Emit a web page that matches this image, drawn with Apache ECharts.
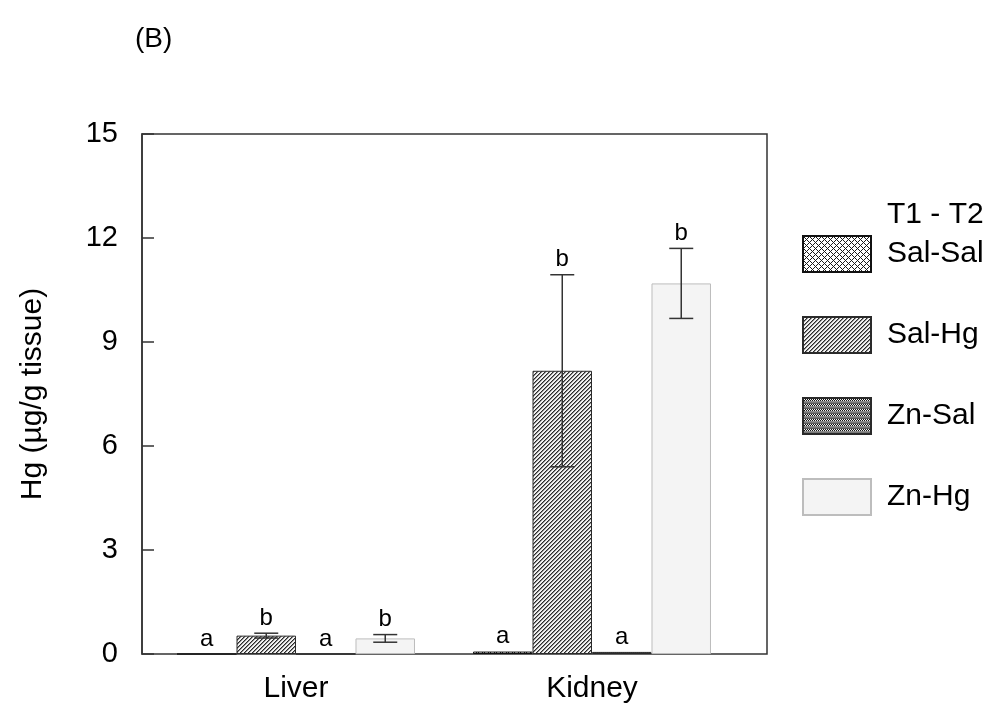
<!DOCTYPE html>
<html>
<head>
<meta charset="utf-8">
<script src="https://cdn.jsdelivr.net/npm/echarts@6/dist/echarts.min.js"></script>
<style>
  html, body { margin: 0; padding: 0; background: #fff; }
  #chart { width: 995px; height: 710px; }
</style>
</head>
<body>
<div id="chart"></div>
<script>
// Hg content (µg/g tissue) by tissue and treatment group (T1 - T2)
const tissues = ['Liver', 'Kidney'];
const groups = ['Sal-Sal', 'Sal-Hg', 'Zn-Sal', 'Zn-Hg'];

const salSal = [0, 0.07];
const salHg  = [0.53, 8.17];
const znSal  = [0, 0.06];
const znHg   = [0.45, 10.69];

const salSalErr = [0, 0];
const salHgErr  = [0.07, 2.77];
const znSalErr  = [0, 0];
const znHgErr   = [0.11, 1.01];

const salSalSig = ['a', 'a'];
const salHgSig  = ['b', 'b'];
const znSalSig  = ['a', 'a'];
const znHgSig   = ['b', 'b'];

const yTicks = [0, 3, 6, 9, 12, 15];

const FONT = '"Liberation Sans", Arial, sans-serif';
const BAR_CAT_GAP = 0.196;

// ---- fill patterns -------------------------------------------------------
function makePattern(w, h, painter) {
  const c = document.createElement('canvas');
  c.width = w; c.height = h;
  const ctx = c.getContext('2d');
  for (let y = 0; y < h; y++) {
    for (let x = 0; x < w; x++) {
      ctx.fillStyle = painter(x, y);
      ctx.fillRect(x, y, 1, 1);
    }
  }
  return { image: c, repeat: 'repeat' };
}
// cross hatch
const crossHatch = makePattern(6, 6, (x, y) =>
  ((x + y) % 6 === 0 || (x - y + 6) % 6 === 0) ? '#1a1a1a' : '#ffffff');
// forward diagonal lines
const diagLines = makePattern(4, 4, (x, y) => {
  const k = (x + y) % 4;
  return k === 0 ? '#2a2a2a' : (k === 1 ? '#8a8a8a' : '#f2f2f2');
});
// dense horizontal bands
const bandRows = [
  () => '#5a5a5a',
  (x) => (x % 2 === 0 ? '#111111' : '#f0f0f0'),
  (x) => (x % 2 === 0 ? '#f0f0f0' : '#111111'),
  () => '#8c8c8c',
  () => '#777777'
];
const hBands = makePattern(4, 5, (x, y) => bandRows[y](x));

const fills = [crossHatch, diagLines, hBands, '#f4f4f4'];
const borders = ['#111111', '#2a2a2a', '#2a2a2a', '#bdbdbd'];

const values = [salSal, salHg, znSal, znHg];
const errors = [salSalErr, salHgErr, znSalErr, znHgErr];
const letters = [salSalSig, salHgSig, znSalSig, znHgSig];

const barSeries = groups.map((g, i) => ({
  name: g,
  type: 'bar',
  xAxisIndex: 1,
  yAxisIndex: 1,
  barGap: '0%',
  barCategoryGap: (BAR_CAT_GAP * 100) + '%',
  data: values[i],
  itemStyle: { color: fills[i], borderColor: borders[i], borderWidth: 1 },
  emphasis: { disabled: true },
  z: 2
}));

// error bars and significance letters
const errSeries = groups.map((g, i) => ({
  name: g,
  type: 'custom',
  xAxisIndex: 1,
  yAxisIndex: 1,
  z: 5,
  silent: true,
  encode: { x: 0, y: 1 },
  data: tissues.map((t, j) => [j, values[i][j], errors[i][j]]),
  renderItem: function (params, api) {
    const cat = api.value(0);
    const v = api.value(1);
    const e = api.value(2);
    const base = api.coord([cat, v]);
    const bandW = api.size([1, 0])[0];
    const barW = bandW * (1 - BAR_CAT_GAP) / groups.length;
    const x = base[0] + (i - (groups.length - 1) / 2) * barW;
    const children = [];
    let topY = base[1];
    if (e > 0) {
      const yHi = api.coord([cat, v + e])[1];
      const yLo = api.coord([cat, v - e])[1];
      const capHalf = 12;
      const lineStyle = { stroke: '#333333', lineWidth: 1.5 };
      children.push({ type: 'line', shape: { x1: x, y1: yHi, x2: x, y2: yLo }, style: lineStyle });
      children.push({ type: 'line', shape: { x1: x - capHalf, y1: yHi, x2: x + capHalf, y2: yHi }, style: lineStyle });
      children.push({ type: 'line', shape: { x1: x - capHalf, y1: yLo, x2: x + capHalf, y2: yLo }, style: lineStyle });
      topY = yHi;
    }
    children.push({
      type: 'text',
      style: {
        x: x, y: topY - 3,
        text: letters[i][params.dataIndex],
        align: 'center', verticalAlign: 'bottom',
        fill: '#000', font: '24px ' + FONT
      }
    });
    return { type: 'group', children: children };
  }
}));

const chart = echarts.init(document.getElementById('chart'), null, { renderer: 'canvas' });
chart.setOption({
  backgroundColor: '#ffffff',
  animation: false,
  textStyle: { fontFamily: FONT },
  title: [
    { text: '(B)', left: 130, top: 20,
      textStyle: { fontSize: 28, fontWeight: 'normal', color: '#000', fontFamily: FONT } },
    { text: 'T1 - T2', left: 882, top: 195,
      textStyle: { fontSize: 30, fontWeight: 'normal', color: '#000', fontFamily: FONT } }
  ],
  legend: {
    orient: 'vertical',
    left: 797,
    top: 230,
    itemWidth: 68,
    itemHeight: 36,
    itemGap: 43,
    icon: 'rect',
    selectedMode: false,
    data: groups,
    textStyle: { fontSize: 30, color: '#000', fontFamily: FONT, lineHeight: 36, padding: [0, 0, 0, 11] }
  },
  grid: [
    { left: 142, top: 134, width: 625, height: 520, show: true,
      borderColor: '#333333', borderWidth: 1.5, backgroundColor: 'transparent' },
    { left: 148, top: 134, width: 592, height: 520 }
  ],
  xAxis: [
    { type: 'value', gridIndex: 0, show: false, min: 0, max: 1 },
    { type: 'category', gridIndex: 1, data: tissues,
      axisLine: { show: false }, axisTick: { show: false },
      axisLabel: { fontSize: 30, color: '#000', margin: 20, fontFamily: FONT } }
  ],
  yAxis: [
    { type: 'value', gridIndex: 0, min: yTicks[0], max: yTicks[yTicks.length - 1],
      interval: yTicks[1] - yTicks[0],
      axisLine: { show: true, lineStyle: { color: '#333333', width: 1.5 } },
      axisTick: { show: true, inside: true, length: 12, lineStyle: { color: '#333333', width: 1.5 } },
      axisLabel: { fontSize: 29, color: '#000', margin: 24, fontFamily: FONT },
      splitLine: { show: false },
      name: 'Hg (µg/g tissue)',
      nameLocation: 'middle',
      nameGap: 94,
      nameTextStyle: { fontSize: 30, color: '#000', fontFamily: FONT } },
    { type: 'value', gridIndex: 1, min: yTicks[0], max: yTicks[yTicks.length - 1], show: false }
  ],
  series: barSeries.concat(errSeries)
});
</script>
</body>
</html>
